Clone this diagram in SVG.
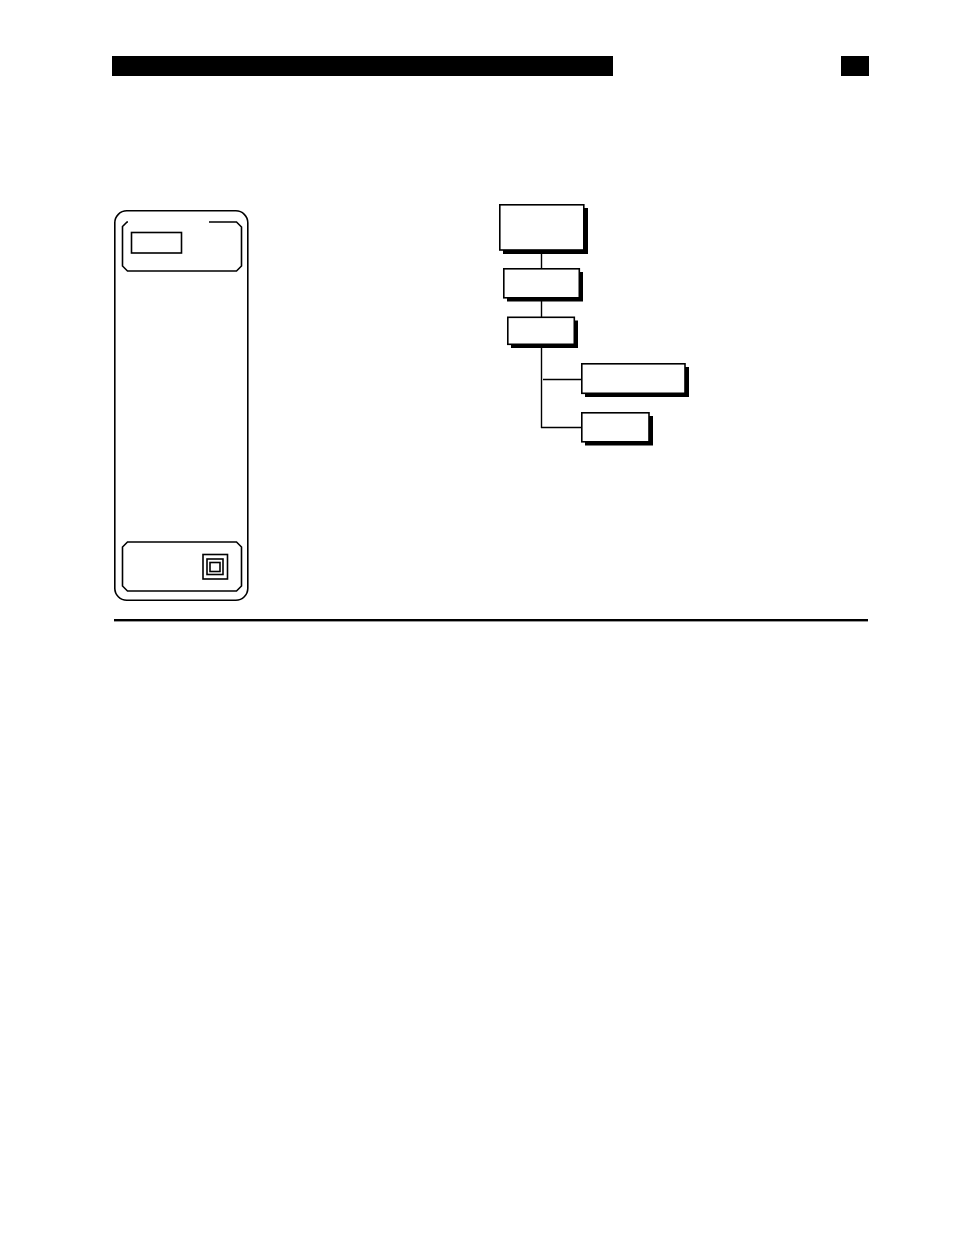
<svg xmlns="http://www.w3.org/2000/svg" width="954" height="1235" viewBox="0 0 954 1235">
<style>
.box{fill:#fff;stroke:#000;stroke-width:1.6}
.sh{fill:#000}
.ln{stroke:#000;stroke-width:1.4;fill:none}
.pl{fill:none;stroke:#000;stroke-width:1.6}
</style>
<rect width="954" height="1235" fill="#fff"/>
<g id="header">
<rect x="112" y="56" width="501" height="20" fill="#000"/>
<rect x="841" y="56" width="28" height="20" fill="#000"/>
</g>
<g id="panel">
<rect x="114.8" y="210.8" width="133" height="389.5" rx="12" class="pl"/>
<path d="M128,222 L127,222 L122.5,226.5 L122.5,266 L127.5,271 L236.5,271 L241.5,266 L241.5,227 L236.5,222 L209,222" class="pl" stroke-width="2"/>
<rect x="131.5" y="232.5" width="50" height="20.5" class="pl"/>
<path d="M127.5,542 L236.5,542 L241.5,547 L241.5,586 L236.5,591 L127.5,591 L122.5,586 L122.5,547 Z" class="pl"/>
<rect x="203" y="554.5" width="24.5" height="24.5" class="pl" stroke-width="1.4"/>
<rect x="207" y="559" width="16" height="15.5" class="pl" stroke-width="2"/>
<rect x="210" y="562.5" width="10" height="9" class="pl" stroke-width="1.2"/>
</g>
<g id="rule">
<rect x="114" y="619" width="754" height="2.4" fill="#000"/>
</g>
<g id="connectors">
<line x1="541.5" y1="250" x2="541.5" y2="269" class="ln"/>
<line x1="541.5" y1="298" x2="541.5" y2="317" class="ln"/>
<line x1="541.5" y1="345" x2="541.5" y2="428" class="ln"/>
<line x1="543" y1="379.5" x2="582" y2="379.5" class="ln"/>
<line x1="541" y1="427.5" x2="582" y2="427.5" class="ln"/>
</g>
<g id="n1">
<rect x="503" y="208" width="85" height="46" class="sh"/>
<rect x="499.8" y="204.8" width="84" height="45.2" class="box"/>
</g>
<g id="n2">
<rect x="507" y="272" width="76" height="29.5" class="sh"/>
<rect x="503.8" y="268.8" width="75.5" height="29" class="box"/>
</g>
<g id="n3">
<rect x="511" y="320.5" width="67" height="27.5" class="sh"/>
<rect x="507.8" y="317.3" width="66.5" height="27" class="box"/>
</g>
<g id="n4">
<rect x="585" y="367" width="104" height="30" class="sh"/>
<rect x="581.8" y="363.8" width="103.2" height="29.5" class="box"/>
</g>
<g id="n5">
<rect x="585" y="416" width="68" height="29.5" class="sh"/>
<rect x="581.8" y="412.8" width="67.2" height="29" class="box"/>
</g>
</svg>
